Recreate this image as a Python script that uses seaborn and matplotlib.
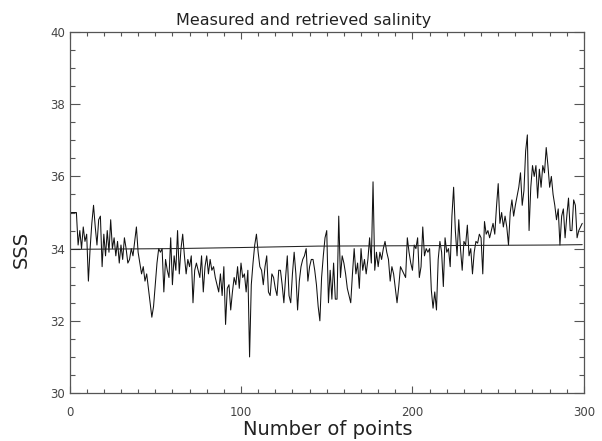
import numpy as np
import pandas as pd
import matplotlib
matplotlib.use("Agg")
import matplotlib.pyplot as plt
import seaborn as sns
from matplotlib.ticker import MultipleLocator

title = "Measured and retrieved salinity"
x_label = "Number of points"
y_label = "SSS"

seg_a = [34.9, 35.0, 35.0, 35.0, 35.0, 34.1, 34.5, 34.0, 34.6, 34.2,
         34.4, 33.1, 34.0, 34.7, 35.2, 34.6, 34.1, 34.8, 34.9, 33.5,
         34.4, 33.8, 34.5, 33.9, 34.8, 34.0, 34.3, 33.8, 34.2, 33.6,
         34.1, 33.7, 34.3, 34.0, 33.6, 33.7, 34.0, 33.8, 34.2, 34.6,
         33.9, 33.6, 33.3, 33.5, 33.1, 33.3, 32.9, 32.5, 32.1, 32.4]
seg_b = [33.0, 33.6, 34.0, 33.9, 34.0, 32.8, 33.7, 33.4, 33.2, 34.3,
         33.0, 33.8, 33.4, 34.5, 33.3, 34.0, 34.4, 33.8, 33.3, 33.7,
         33.5, 33.8, 32.5, 33.4, 33.6, 33.4, 33.2, 33.8, 32.8, 33.5,
         33.8, 33.3, 33.7, 33.4, 33.5, 33.2, 33.0, 32.8, 33.3, 32.7,
         33.5, 31.9, 32.9, 33.0, 32.3, 32.8, 33.2, 33.0, 33.5, 32.9,
         33.6, 33.2, 33.3]
seg_c = [32.8, 33.4, 31.0, 33.0, 33.6, 34.1, 34.4, 33.9, 33.5, 33.4,
         33.0, 33.5, 33.8, 32.8, 32.7, 33.3, 33.2, 32.9, 32.7, 33.4,
         33.4, 33.0, 32.5, 33.2, 33.8, 32.7, 32.5, 33.3, 33.9, 33.3,
         32.3, 33.1, 33.5, 33.7, 33.8, 34.0, 33.1, 33.5, 33.7, 33.7,
         33.4, 33.0, 32.4, 32.0, 33.2, 33.8, 34.3, 34.5, 32.5, 33.4,
         32.6, 33.6, 32.6]
seg_d = [32.6, 34.9, 33.2, 33.8, 33.6, 33.3, 32.9, 32.7, 32.5, 33.3,
         34.0, 33.3, 33.6, 32.9, 34.0, 33.4, 33.7, 33.3, 33.7, 34.3,
         33.6, 35.85, 33.4, 33.9, 33.5, 33.9, 33.7, 34.0, 34.2, 33.9,
         33.7, 33.1, 33.5, 33.3, 32.9, 32.5, 32.95, 33.5, 33.4, 33.3,
         33.2, 34.3, 33.9, 33.6, 33.4, 34.1, 34.0, 34.3, 33.2, 33.5,
         34.6]
seg_e = [33.8, 34.0, 33.9, 34.0, 32.85, 32.35, 32.8, 32.3, 33.7, 34.2,
         33.9, 32.95, 34.3, 33.9, 34.0, 33.5, 34.9, 35.7, 34.5, 33.8,
         34.8, 34.0, 33.4, 34.2, 34.1, 34.65, 33.8, 34.0, 33.3, 33.9,
         34.2, 34.15, 34.4, 34.3, 33.3, 34.75, 34.4, 34.5, 34.3, 34.5,
         34.7, 34.4, 35.16, 35.8, 34.7, 35.0, 34.6, 34.9]
seg_f = [34.6, 34.1, 35.0, 35.35, 34.9, 35.2, 35.45, 35.7, 36.1, 35.2,
         35.6, 36.7, 37.15, 34.5, 35.7, 36.3, 36.0, 36.3, 35.4, 36.2,
         35.7, 36.3, 36.1, 36.8, 36.3, 35.7, 36.0, 35.5, 35.2, 34.8,
         35.1, 34.1, 34.9, 35.1, 34.3, 34.9, 35.4, 34.5, 34.5, 35.35,
         35.2, 34.3, 34.5, 34.6, 34.7]
measured = seg_a + seg_b + seg_c + seg_d + seg_e + seg_f

retrieved_x = [0, 60, 100, 145, 200, 283, 299]
retrieved_y = [33.98, 34.0, 34.03, 34.07, 34.08, 34.1, 34.11]

df_m = pd.DataFrame({"x": np.arange(len(measured)), "y": measured})
df_r = pd.DataFrame({"x": retrieved_x, "y": retrieved_y})

sns.set_style("white")
plt.rcParams["font.family"] = ["DejaVu Sans"]

fig = plt.figure(figsize=(6.02, 4.41), dpi=100)
ax = fig.add_axes([0.1155, 0.1088, 0.8545, 0.8186])

sns.lineplot(data=df_m, x="x", y="y", ax=ax, color="#111111", linewidth=0.75)
sns.lineplot(data=df_r, x="x", y="y", ax=ax, color="#222222", linewidth=0.75)

ax.set_xlim(0, 300)
ax.set_ylim(30, 40)
ax.xaxis.set_major_locator(MultipleLocator(100))
ax.xaxis.set_minor_locator(MultipleLocator(10))
ax.yaxis.set_major_locator(MultipleLocator(2))
ax.yaxis.set_minor_locator(MultipleLocator(0.5))

tick_col = "#555555"
lab_col = "#444444"
ax.tick_params(axis="x", which="major", direction="in", length=5, width=0.8,
               top=True, bottom=True, color=tick_col, labelsize=8.5,
               labelcolor=lab_col, pad=9.5)
ax.tick_params(axis="x", which="minor", direction="in", length=2.6, width=0.8,
               top=True, bottom=True, color=tick_col)
ax.tick_params(axis="y", which="major", direction="in", length=7, width=0.8,
               left=True, right=True, color=tick_col, labelsize=8.5,
               labelcolor=lab_col, pad=3.2)
ax.tick_params(axis="y", which="minor", direction="in", length=3.6, width=0.8,
               left=True, right=True, color=tick_col)
for s in ax.spines.values():
    s.set_color(tick_col)
    s.set_linewidth(0.9)

fig.text(304 / 602, 1 - 25 / 441, title, fontsize=11.5, color="#222222",
         ha="center", va="baseline")
ax.set_xlabel(x_label, fontsize=14, color="#222222", va="baseline")
ax.xaxis.set_label_coords(328 / 602, 1 - 435 / 441, transform=fig.transFigure)
ax.set_ylabel(y_label, fontsize=14, color="#222222", va="center", ha="center")
ax.yaxis.set_label_coords(21 / 602, 1 - 249 / 441, transform=fig.transFigure)

fig.savefig("out.png", dpi=100)
